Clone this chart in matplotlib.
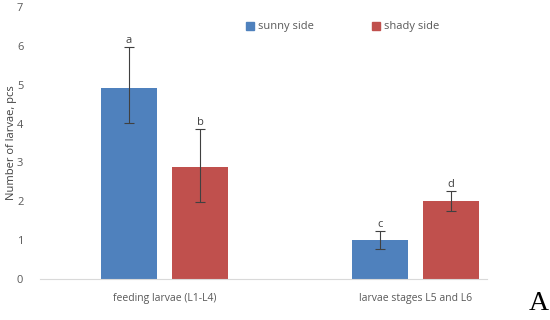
import matplotlib
matplotlib.use("Agg")
import matplotlib.pyplot as plt
from matplotlib.patches import Patch
import numpy as np

categories = ["feeding larvae (L1-L4)", "larvae stages L5 and L6"]
series = ["sunny side", "shady side"]
sunny = [4.92, 1.00]
shady = [2.88, 2.00]
sunny_err_low = [0.91, 0.23]
sunny_err_high = [1.06, 0.24]
shady_err_low = [0.89, 0.25]
shady_err_high = [0.99, 0.26]
sunny_letters = ["a", "c"]
shady_letters = ["b", "d"]
yticks = [0, 1, 2, 3, 4, 5, 6, 7]

blue = "#4F81BD"
red = "#C0504D"
txt = "#595959"

plt.rcParams['font.family'] = ['Open Sans', 'DejaVu Sans']

fig = plt.figure(figsize=(5.5, 3.2), dpi=100)
ax = fig.add_axes([40/550, 1-279/320, (487-40)/550, (279-7)/320])

x = np.arange(len(categories))
w = 0.223
off = 0.1414
ekw = dict(ecolor="#404040", elinewidth=0.8, capsize=3.5, capthick=0.8)
ax.bar(x - off, sunny, w, color=blue, yerr=[sunny_err_low, sunny_err_high], error_kw=ekw,
       label=series[0], zorder=2)
ax.bar(x + off, shady, w, color=red, yerr=[shady_err_low, shady_err_high], error_kw=ekw,
       label=series[1], zorder=2)

for xi, v, e, l in zip(x - off, sunny, sunny_err_high, sunny_letters):
    ax.text(xi, v + e + 0.02, l, ha="center", va="bottom", fontsize=8, color="#404040")
for xi, v, e, l in zip(x + off, shady, shady_err_high, shady_letters):
    ax.text(xi, v + e + 0.02, l, ha="center", va="bottom", fontsize=8, color="#404040")

ax.set_xlim(-0.496, 1.285)
ax.set_ylim(0, 7)
ax.set_yticks(yticks)
ax.set_xticks(x)
ax.set_xticklabels(categories, fontsize=7.5, color=txt)
ax.tick_params(axis="y", labelsize=8, colors=txt, length=0, pad=12)
ax.tick_params(axis="x", length=0, pad=10)
for s in ["top", "right", "left"]:
    ax.spines[s].set_visible(False)
ax.spines["bottom"].set_color("#D9D9D9")
ax.set_ylabel("Number of larvae, pcs", fontsize=8, color="#404040")
ax.yaxis.set_label_coords(-0.051, 0.5)

handles = [Patch(color=blue), Patch(color=red)]
leg = fig.legend(handles, series, loc="center left", bbox_to_anchor=(246/550, 1-27/320),
                 ncol=2, frameon=False, fontsize=8, handlelength=0.7, handleheight=0.7,
                 handletextpad=0.4, columnspacing=5.2, borderpad=0, borderaxespad=0)
for t in leg.get_texts():
    t.set_color(txt)

fig.text(539/550, 1-304/320, "A", fontsize=20, family="Liberation Serif", ha="center",
         va="center", color="black")

fig.savefig("out.png", dpi=100)
